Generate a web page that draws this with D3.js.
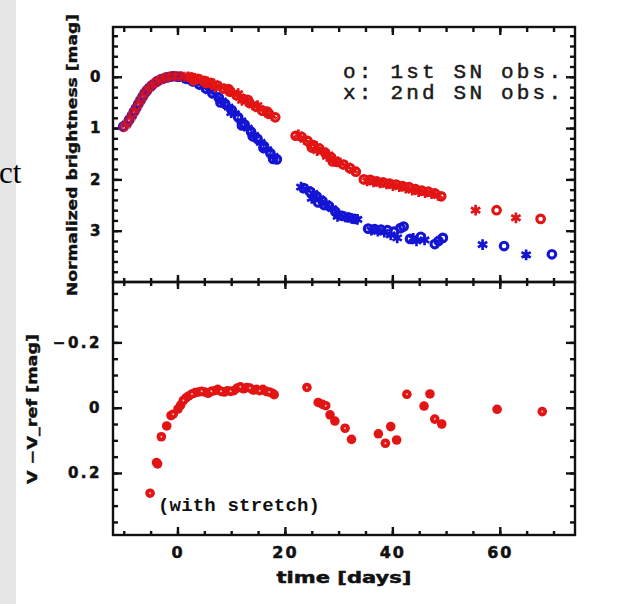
<!DOCTYPE html>
<html><head><meta charset="utf-8">
<script src="https://cdn.jsdelivr.net/npm/d3@7"></script>
<style>
html,body{margin:0;padding:0;background:#fff;}
svg{display:block;}
</style></head>
<body>
<svg id="c" width="620" height="604"></svg>
<script>
// ---------- data ----------
const xTicksMajor = [0, 20, 40, 60];
const xTicksMinor = [-10,-5,0,5,10,15,20,25,30,35,40,45,50,55,60,65,70];
const topTicksMajor = [0, 1, 2, 3];
const topTicksMinor = [-0.8,-0.6,-0.4,-0.2,0,0.2,0.4,0.6,0.8,1,1.2,1.4,1.6,1.8,2,2.2,2.4,2.6,2.8,3,3.2,3.4,3.6,3.8];
const botTicksMajor = [-0.2, 0, 0.2];
const botTicksMinor = [-0.35,-0.3,-0.25,-0.2,-0.15,-0.1,-0.05,0,0.05,0.1,0.15,0.2,0.25,0.3,0.35];
const legendLines = ["o: 1st SN obs.", "x: 2nd SN obs."];

// [day, normalized mag, symbol]
const redCurve = [
 [-10.0,0.98,'o'],[-9.6,0.95,'x'],[-9.2,0.88,'o'],[-8.7,0.80,'x'],[-8.3,0.72,'o'],[-7.9,0.66,'x'],
 [-7.5,0.58,'o'],[-7.1,0.50,'x'],[-6.7,0.43,'o'],[-6.3,0.36,'x'],[-5.9,0.29,'o'],[-5.5,0.24,'x'],
 [-5.0,0.19,'o'],[-4.6,0.15,'x'],[-4.1,0.11,'o'],[-3.6,0.07,'x'],[-3.1,0.05,'o'],[-2.6,0.03,'x'],
 [-2.1,0.01,'o'],[-1.5,0.00,'x'],[-1.0,-0.01,'o'],[-0.4,-0.01,'x'],[0.2,-0.01,'o'],[0.8,-0.01,'x'],
 [1.4,0.00,'o'],[2.0,0.00,'x'],[2.6,0.01,'o'],[3.2,0.03,'x'],[3.8,0.04,'o'],[4.4,0.06,'x'],
 [5.0,0.08,'o'],[5.6,0.10,'x'],[6.2,0.12,'o'],[6.8,0.14,'x'],[7.4,0.17,'o'],[8.0,0.20,'x'],
 [8.6,0.23,'o'],[9.2,0.26,'x'],[9.8,0.29,'o'],[10.4,0.32,'x'],[11.0,0.36,'o'],[11.6,0.40,'x'],
 [12.2,0.43,'o'],[12.8,0.47,'x'],[13.4,0.51,'o'],[14.0,0.55,'x'],[14.6,0.58,'o'],[15.2,0.62,'x'],
 [15.8,0.66,'o'],[16.4,0.69,'x'],[17.0,0.72,'o'],[17.6,0.76,'x'],[18.2,0.79,'o'],
 [9.5,0.24,'o'],[11.3,0.33,'x'],[13.1,0.45,'o'],[14.9,0.56,'x'],[16.7,0.68,'o'],[12.0,0.46,'x'],
 [5.3,0.12,'o'],[7.0,0.20,'x'],[3.0,0.07,'o'],
 [22.0,1.15,'o'],[22.5,1.13,'x'],[23.1,1.17,'o'],[23.6,1.22,'x'],[24.2,1.25,'o'],[24.8,1.30,'x'],
 [25.3,1.33,'o'],[25.9,1.36,'x'],[26.4,1.40,'o'],[27.0,1.45,'x'],[27.5,1.48,'o'],[28.1,1.52,'x'],
 [28.6,1.57,'o'],[29.2,1.62,'x'],[29.7,1.66,'o'],[30.3,1.68,'x'],[30.9,1.71,'o'],[31.5,1.74,'x'],
 [32.1,1.78,'o'],[32.7,1.82,'x'],[33.2,1.85,'o'],[25.0,1.38,'o'],[27.8,1.55,'x'],[26.0,1.44,'x'],[28.9,1.65,'o'],
 [34.7,2.00,'o'],[35.3,2.03,'x'],[35.9,2.01,'o'],[36.5,2.05,'x'],[37.1,2.04,'o'],[37.7,2.07,'x'],
 [38.3,2.06,'o'],[38.9,2.09,'x'],[39.5,2.08,'o'],[40.1,2.12,'x'],[40.7,2.10,'o'],[41.3,2.14,'x'],
 [41.9,2.13,'o'],[42.5,2.17,'x'],[43.1,2.15,'o'],[43.7,2.21,'x'],[44.3,2.19,'o'],[44.9,2.24,'x'],
 [45.5,2.22,'o'],[46.1,2.26,'x'],[46.7,2.24,'o'],[47.3,2.28,'x'],[47.9,2.27,'o'],[48.5,2.31,'x'],
 [49.1,2.33,'o'],
 [55.5,2.60,'x'],[59.4,2.60,'o'],[63.0,2.75,'x'],[67.6,2.77,'o']
];
const blueCurve = [
 [-10.1,0.97,'o'],[-9.5,0.92,'x'],[-9.0,0.84,'o'],[-8.5,0.76,'x'],[-8.1,0.68,'o'],[-7.7,0.61,'x'],
 [-7.3,0.53,'o'],[-6.9,0.46,'x'],[-6.5,0.39,'o'],[-6.1,0.32,'x'],[-5.7,0.27,'o'],[-5.2,0.21,'x'],
 [-4.8,0.17,'o'],[-4.3,0.13,'x'],[-3.8,0.09,'o'],[-3.3,0.06,'x'],[-2.8,0.04,'o'],[-2.3,0.02,'x'],
 [-1.8,0.01,'o'],[-1.2,0.00,'x'],[-0.7,-0.01,'o'],[-0.1,0.00,'x'],[0.5,0.00,'o'],[1.1,0.02,'x'],
 [1.7,0.04,'o'],[2.3,0.06,'x'],[2.9,0.09,'o'],[3.5,0.12,'x'],[4.1,0.15,'o'],[4.7,0.19,'x'],
 [5.3,0.23,'o'],[5.9,0.27,'x'],[6.5,0.32,'o'],[7.1,0.36,'x'],[7.7,0.41,'o'],[8.3,0.47,'x'],
 [8.9,0.53,'o'],[9.5,0.59,'x'],[10.1,0.65,'o'],[10.7,0.72,'x'],[11.3,0.79,'o'],[11.9,0.86,'x'],
 [12.5,0.93,'o'],[13.1,1.00,'x'],[13.7,1.07,'o'],[14.3,1.14,'x'],[14.9,1.21,'o'],[15.5,1.28,'x'],
 [16.1,1.35,'o'],[16.7,1.42,'x'],[17.3,1.49,'o'],[17.9,1.55,'x'],[18.5,1.61,'o'],
 [12.0,0.95,'o'],[14.0,1.16,'o'],[16.0,1.39,'o'],[17.8,1.60,'o'],[10.0,0.70,'x'],[8.0,0.50,'o'],
 [23.0,2.15,'x'],[23.5,2.17,'o'],[24.1,2.20,'x'],[24.7,2.24,'o'],[25.3,2.27,'x'],[25.9,2.33,'o'],
 [26.5,2.38,'x'],[27.0,2.42,'o'],[27.6,2.47,'x'],[28.2,2.52,'o'],[28.8,2.57,'x'],[29.4,2.63,'o'],
 [30.0,2.68,'x'],[30.6,2.71,'o'],[31.2,2.73,'x'],[31.8,2.74,'o'],[32.4,2.76,'x'],[33.0,2.77,'o'],
 [33.5,2.78,'x'],[25.0,2.37,'x'],[27.3,2.50,'o'],[29.8,2.72,'x'],[26.2,2.45,'o'],
 [35.5,2.96,'o'],[36.1,2.99,'x'],[36.7,2.97,'o'],[37.3,3.01,'x'],[37.9,2.98,'o'],[38.5,3.03,'x'],
 [39.1,2.99,'o'],[39.7,3.08,'x'],[40.3,3.02,'o'],[40.9,3.14,'x'],[41.5,2.95,'o'],[42.1,2.92,'o'],
 [43.3,3.16,'o'],[43.9,3.15,'x'],[44.5,3.20,'x'],[45.3,3.12,'o'],[46.0,3.18,'x'],[47.9,3.26,'o'],
 [48.6,3.20,'o'],[49.4,3.14,'o'],
 [56.8,3.27,'x'],[60.8,3.30,'o'],[64.9,3.47,'x'],[69.7,3.46,'o']
];
// [day, V - V_ref]
const diffCurve = [
 [-5.1,0.262],[-3.9,0.168],[-3.7,0.172],[-3.0,0.089],[-2.0,0.056],[-1.2,0.024],[-0.8,0.020],
 [0.1,0.004],[0.6,-0.008],[1.1,-0.022],[1.6,-0.030],[2.1,-0.036],[2.7,-0.042],[3.3,-0.046],
 [3.9,-0.048],[4.5,-0.050],[5.1,-0.048],[5.7,-0.044],[6.3,-0.050],[6.9,-0.052],[7.5,-0.056],
 [8.1,-0.050],[8.7,-0.048],[9.3,-0.052],[9.9,-0.050],[10.5,-0.052],[11.1,-0.060],[11.7,-0.064],
 [12.3,-0.058],[12.9,-0.062],[13.5,-0.060],[14.1,-0.054],[14.7,-0.056],[15.3,-0.052],[15.9,-0.056],
 [16.5,-0.050],[17.1,-0.048],[17.7,-0.044],[18.0,-0.040],
 [24.1,-0.062],[26.2,-0.016],[27.0,-0.010],[27.6,-0.006],[28.4,0.022],[29.3,0.041],[31.2,0.063],[32.4,0.097],
 [37.4,0.080],[38.7,0.109],[39.7,0.058],[40.8,0.099],[42.7,-0.041],[45.9,-0.005],[47.0,-0.042],
 [47.9,0.035],[49.2,0.050],
 [59.5,0.005],[67.9,0.012]
];

// ---------- drawing ----------
const svg = d3.select("#c");
const RED = "#e21414", BLUE = "#1414d4";
const L = 113, R = 575, T1 = 27, M = 282, B = 535;

svg.append("rect").attr("width",620).attr("height",604).attr("fill","#fff");
// slide remnants
svg.append("rect").attr("x",0).attr("y",0).attr("width",16).attr("height",604).attr("fill","#e6e6e6");
svg.append("text").attr("x",-1).attr("y",183).attr("font-family","Liberation Serif").attr("font-size",31).attr("fill","#000").text("ct");

const x = d3.scaleLinear().domain([-12, 74]).range([L, R]);
const yT = d3.scaleLinear().domain([-0.97, 4.0]).range([T1, M]);
const yB = d3.scaleLinear().domain([-0.385, 0.39]).range([M, B]);

const tickFont = g => g.selectAll("text").attr("font-family","DejaVu Sans").attr("font-weight","bold")
   .attr("font-size",15).attr("letter-spacing","1.5px").attr("fill","#111")
   .attr("stroke","#111").attr("stroke-width",0.5);
function ax(gen, tx, ty, vals, size, labels, pad){
  const a = gen.tickValues(vals).tickSize(size).tickSizeOuter(0).tickPadding(pad||10)
     .tickFormat(labels ? (d => d3.format("")(d).replace("-","\u2212")) : () => "");
  const g = svg.append("g").attr("transform",`translate(${tx},${ty})`).call(a);
  g.select(".domain").remove();
  g.selectAll("line").attr("stroke","#111").attr("stroke-width",2.4);
  tickFont(g);
  return g;
}
// x ticks: top frame, divider (both panels), bottom
ax(d3.axisTop(x), 0, T1, xTicksMinor, -5, false);
ax(d3.axisTop(x), 0, T1, xTicksMajor, -8, false);
ax(d3.axisBottom(x), 0, M, xTicksMinor, -4, false);
ax(d3.axisBottom(x), 0, M, xTicksMajor, -7, false);
ax(d3.axisTop(x), 0, M, xTicksMinor, -4, false);
ax(d3.axisTop(x), 0, M, xTicksMajor, -7, false);
ax(d3.axisBottom(x), 0, B, xTicksMinor, -4, false);
const xl = ax(d3.axisBottom(x), 0, B, xTicksMajor, -8, true, 12);
xl.selectAll("text").attr("font-size",16).attr("letter-spacing","2px");
// y ticks top
ax(d3.axisLeft(yT), L, 0, topTicksMinor, -5, false);
ax(d3.axisLeft(yT), L, 0, topTicksMajor, -9, true, 11);
ax(d3.axisRight(yT), R, 0, topTicksMinor, -5, false);
ax(d3.axisRight(yT), R, 0, topTicksMajor, -9, false);
// y ticks bottom
ax(d3.axisLeft(yB), L, 0, botTicksMinor, -5, false);
const yl = ax(d3.axisLeft(yB), L, 0, botTicksMajor, -9, true, 11);
yl.selectAll("text").attr("letter-spacing","2.5px");
ax(d3.axisRight(yB), R, 0, botTicksMinor, -5, false);
ax(d3.axisRight(yB), R, 0, botTicksMajor, -9, false);

// frames
svg.append("rect").attr("x",L).attr("y",T1).attr("width",R-L).attr("height",M-T1).attr("fill","none").attr("stroke","#111").attr("stroke-width",2.4);
svg.append("rect").attr("x",L).attr("y",M).attr("width",R-L).attr("height",B-M).attr("fill","none").attr("stroke","#111").attr("stroke-width",2.4);

// markers top panel
const ast = d3.symbol().type(d3.symbolAsterisk).size(80);
function drawCurve(data, color, opFn){
  const g = svg.append("g");
  g.selectAll("circle").data(data.filter(d=>d[2]==='o')).join("circle")
    .attr("cx",d=>x(d[0])).attr("cy",d=>yT(d[1])).attr("r",3.8)
    .attr("fill","none").attr("stroke",color).attr("stroke-width",3.1).attr("opacity",opFn);
  g.selectAll("path").data(data.filter(d=>d[2]==='x')).join("path")
    .attr("d",ast).attr("transform",d=>`translate(${x(d[0])},${yT(d[1])})`)
    .attr("fill","none").attr("stroke",color).attr("stroke-width",2.7).attr("opacity",opFn);
}
drawCurve(blueCurve, BLUE, () => 1);
drawCurve(redCurve, RED, d => d[0] < 1.5 ? 0.6 : 1);

// bottom panel markers
const gb = svg.append("g");
gb.selectAll("circle.o").data(diffCurve).join("circle")
  .attr("cx",d=>x(d[0])).attr("cy",d=>yB(d[1])).attr("r",4.8).attr("fill",RED);
gb.selectAll("circle.i").data(diffCurve.filter((d,i)=>i%3===0)).join("circle")
  .attr("cx",d=>x(d[0])).attr("cy",d=>yB(d[1])).attr("r",1).attr("fill","#f4c0c0");

// legend
const lg = svg.append("g").attr("font-family","Liberation Mono").attr("font-size",21).attr("fill","#1a1a1a");
lg.selectAll("text").data(legendLines).join("text")
  .attr("x",343).attr("y",(d,i)=>78+i*21).attr("textLength",218).attr("lengthAdjust","spacing")
  .attr("stroke","#1a1a1a").attr("stroke-width",0.5).text(d=>d);

// annotation
svg.append("text").attr("x",158).attr("y",511).attr("font-family","Liberation Mono").attr("font-weight","bold")
  .attr("font-size",19).attr("textLength",162).attr("lengthAdjust","spacing").attr("fill","#111").text("(with stretch)");

// axis titles
svg.append("text").attr("x",344).attr("y",583).attr("text-anchor","middle").attr("font-family","DejaVu Sans")
  .attr("font-weight","bold").attr("font-size",16).attr("textLength",135).attr("lengthAdjust","spacingAndGlyphs")
  .attr("fill","#111").attr("stroke","#111").attr("stroke-width",0.5).text("time [days]");
svg.append("text").attr("transform","translate(77,155) rotate(-90)").attr("text-anchor","middle")
  .attr("font-family","DejaVu Sans").attr("font-weight","bold").attr("font-size",14)
  .attr("textLength",282).attr("lengthAdjust","spacingAndGlyphs").attr("fill","#111")
  .attr("stroke","#111").attr("stroke-width",0.4).text("Normalized brightness [mag]");
svg.append("text").attr("transform","translate(37,409) rotate(-90)").attr("text-anchor","middle")
  .attr("font-family","DejaVu Sans").attr("font-weight","bold").attr("font-size",14)
  .attr("textLength",150).attr("lengthAdjust","spacingAndGlyphs").attr("fill","#111")
  .attr("stroke","#111").attr("stroke-width",0.4).text("V \u2212V_ref [mag]");
</script>
</body></html>
